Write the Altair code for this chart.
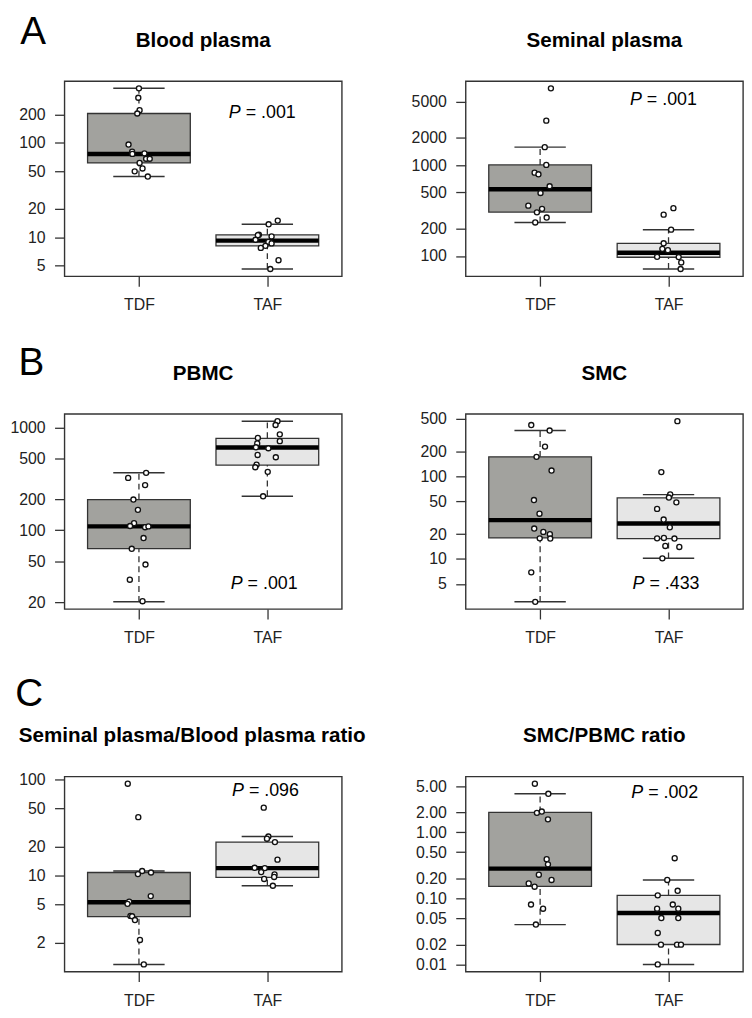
import math
import altair as alt
import pandas as pd

groups = ["TDF", "TAF"]

# ---------------- data ----------------
# Blood plasma
bp_tdf = [379, 301, 222, 205, 96, 80.7, 76.4, 77.5, 67.9, 67.9, 61.3, 53.6, 49.9, 44]
bp_tdf_jit = [0.0, -0.005, 0.005, -0.013, -0.081, -0.053, -0.051, 0.043, 0.056, 0.084, 0.005, 0.028, -0.033, 0.069]
bp_taf = [15.0, 13.7, 10.6, 10.5, 10.2, 9.4, 8.9, 8.6, 8.1, 7.7, 5.7, 4.6]
bp_taf_jit = [0.081, 0.010, -0.066, -0.074, 0.033, -0.092, 0.008, 0.033, -0.015, -0.051, 0.087, 0.023]
bp_box_tdf = [44, 61.3, 76.4, 205, 379]
bp_box_taf = [4.6, 8.1, 9.2, 10.6, 13.7]

# Seminal plasma
sp_tdf = [6980, 3080, 1575, 1004, 825, 792, 585, 493, 358, 330, 302, 265, 234]
sp_tdf_jit = [0.084, 0.048, 0.036, 0.048, -0.043, -0.013, 0.074, 0.003, -0.092, 0.015, -0.025, 0.051, -0.038]
sp_taf = [336, 285, 195, 138, 120, 116, 98, 97.5, 85, 72]
sp_taf_jit = [0.038, -0.038, 0.020, -0.038, -0.048, -0.005, -0.089, 0.079, 0.099, 0.094]
sp_box_tdf = [234, 304, 543, 1004, 1575]
sp_box_taf = [72, 97, 108.5, 138, 195]

# PBMC
pb_tdf = [362, 323, 275, 199, 158, 117, 110, 107, 109, 84, 66, 46.4, 33, 20.4]
pb_tdf_jit = [0.056, -0.084, 0.048, -0.043, -0.008, -0.038, -0.069, 0.048, 0.074, 0.036, -0.056, 0.051, -0.071, 0.028]
pb_taf = [1152, 1057, 857, 791, 736, 700, 641, 628, 540, 513, 434, 410, 370, 214]
pb_taf_jit = [0.079, 0.064, 0.097, -0.074, 0.097, -0.079, -0.089, 0.008, -0.076, 0.066, -0.084, -0.094, 0.003, -0.033]
pb_box_tdf = [20.1, 66.2, 109, 199, 362]
pb_box_taf = [214, 431, 637, 785, 1152]

# SMC
sm_tdf = [420, 360, 230, 173, 118, 51.8, 35.4, 23.4, 21.3, 20.0, 17.8, 17.7, 6.9, 3.03]
sm_tdf_jit = [-0.069, 0.074, 0.038, -0.028, 0.089, -0.048, -0.005, -0.046, 0.025, 0.076, -0.003, 0.079, -0.069, -0.038]
sm_taf = [468, 113, 60.8, 55.6, 48.6, 40.5, 30.1, 24.2, 17.8, 18.0, 17.7, 14.4, 14.0, 10.2]
sm_taf_jit = [0.069, -0.056, 0.013, 0.003, 0.061, -0.089, -0.038, 0.010, -0.089, -0.036, 0.046, -0.025, 0.084, -0.048]
sm_box_tdf = [3.03, 18.0, 29.6, 173, 360]
sm_box_taf = [10.2, 17.7, 27.0, 55.1, 60.3]

# Seminal plasma / Blood plasma ratio
rs_tdf = [91, 40.8, 11.2, 10.8, 10.4, 6.13, 5.37, 5.09, 3.81, 3.78, 3.45, 2.14, 1.19]
rs_tdf_jit = [-0.087, -0.005, 0.025, 0.094, -0.008, 0.092, -0.076, -0.089, -0.066, -0.053, -0.031, 0.008, 0.038]
rs_taf = [51.2, 25.6, 24.3, 22.4, 14.7, 12.1, 12.0, 10.9, 10.3, 9.7, 9.25, 7.86]
rs_taf_jit = [-0.028, 0.008, -0.003, 0.059, 0.079, -0.099, -0.020, -0.048, 0.056, 0.053, -0.025, 0.043]
rs_box_tdf = [1.19, 3.75, 5.28, 10.8, 11.2]
rs_box_taf = [7.86, 9.6, 12.0, 22.4, 25.6]

# SMC / PBMC ratio
rc_tdf = [5.44, 3.83, 1.97, 2.06, 1.57, 0.392, 0.327, 0.228, 0.190, 0.168, 0.150, 0.0807, 0.0697, 0.0401]
rc_tdf_jit = [-0.041, 0.064, -0.025, 0.013, 0.061, 0.051, 0.061, -0.010, 0.089, -0.089, -0.043, -0.071, 0.023, -0.033]
rc_taf = [0.405, 0.190, 0.130, 0.111, 0.0807, 0.0697, 0.0697, 0.0503, 0.0503, 0.0299, 0.0199, 0.0199, 0.0199, 0.01]
rc_taf_jit = [0.048, -0.010, 0.071, -0.084, 0.033, -0.089, 0.076, -0.056, 0.076, -0.084, -0.059, 0.066, 0.097, -0.084]
rc_box_tdf = [0.040, 0.152, 0.282, 2.0, 3.83]
rc_box_taf = [0.01, 0.02, 0.0602, 0.111, 0.19]

titles = ["Blood plasma", "Seminal plasma", "PBMC", "SMC",
          "Seminal plasma/Blood plasma ratio", "SMC/PBMC ratio"]
letters = ["A", "B", "C"]
p_values = ["= .001", "= .001", "= .001", "= .433", "= .096", "= .002"]
p_anchor_x = [1.70, 1.70, 1.715, 1.72, 1.725, 1.71]
p_anchor_y = [181.5, 4520, 26.9, 4.29, 67.8, 3.34]
y_ticks = [
    [5, 10, 20, 50, 100, 200],
    [100, 200, 500, 1000, 2000, 5000],
    [20, 50, 100, 200, 500, 1000],
    [5, 10, 20, 50, 100, 200, 500],
    [2, 5, 10, 20, 50, 100],
    [0.01, 0.02, 0.05, 0.1, 0.2, 0.5, 1, 2, 5],
]
y_formats = ["d", "d", "d", "d", "d", ".2f"]

# ---------------- layout / style ----------------
W, H = 280, 197
HSPACE = 125
LEFT_M = 56
BOTTOM_E = 38
ROW_TOP = [68, 99, 129]          # space reserved above each row's plots
LETTER_POS = [(-44.7, -37.0), (-46.3, -39.6), (-49.7, -71.6)]
FONT = "Liberation Sans"
DARK = "#333333"
FILLS = ["#a2a29e", "#e6e6e6"]

XSCALE = alt.Scale(domain=[0.42, 2.58], nice=False, zero=False)
XAXIS = alt.Axis(values=[1, 2], labelExpr="datum.value == 1 ? 'TDF' : 'TAF'",
                 title=None, labelFlush=False, labelOverlap=False, labelPadding=11)


def panel(idx, tdf, tdf_j, taf, taf_j, box_tdf, box_taf, left, row):
    allv = tdf + taf + box_tdf + box_taf
    lo, hi = math.log10(min(allv)), math.log10(max(allv))
    ext = 0.04 * (hi - lo)
    dom = [10 ** (lo - ext), 10 ** (hi + ext)]
    ysc = alt.Scale(type="log", domain=dom, nice=False, zero=False)
    yax = alt.Axis(values=y_ticks[idx], format=y_formats[idx], title=None,
                   labelOverlap=False, labelPadding=9.5)

    pts = pd.DataFrame({
        "x": [1 + j for j in tdf_j] + [2 + j for j in taf_j],
        "v": tdf + taf,
    })
    st = pd.DataFrame({
        "grp": groups,
        "g": [1, 2],
        "lo": [box_tdf[0], box_taf[0]],
        "q1": [box_tdf[1], box_taf[1]],
        "med": [box_tdf[2], box_taf[2]],
        "q3": [box_tdf[3], box_taf[3]],
        "hi": [box_tdf[4], box_taf[4]],
    })
    st["gl"] = st["g"] - 0.4
    st["gr"] = st["g"] + 0.4
    st["cl"] = st["g"] - 0.2
    st["cr"] = st["g"] + 0.2

    def X(f):
        return alt.X(f, scale=XSCALE, axis=XAXIS)

    def Y(f):
        return alt.Y(f, scale=ysc, axis=yax)

    base = alt.Chart(st)
    box = base.mark_rect(stroke=DARK, strokeWidth=1.3).encode(
        x=X("gl:Q"), x2="gr:Q", y=Y("q1:Q"), y2="q3:Q",
        fill=alt.Fill("grp:N", scale=alt.Scale(domain=groups, range=FILLS), legend=None),
    )
    wh_up = base.mark_rule(color=DARK, strokeWidth=1.3, strokeDash=[6, 4]).encode(
        x=X("g:Q"), y=Y("q3:Q"), y2="hi:Q")
    wh_dn = base.mark_rule(color=DARK, strokeWidth=1.3, strokeDash=[6, 4]).encode(
        x=X("g:Q"), y=Y("lo:Q"), y2="q1:Q")
    cap_up = base.mark_rule(color=DARK, strokeWidth=1.5).encode(
        x=X("cl:Q"), x2="cr:Q", y=Y("hi:Q"))
    cap_dn = base.mark_rule(color=DARK, strokeWidth=1.5).encode(
        x=X("cl:Q"), x2="cr:Q", y=Y("lo:Q"))
    med = base.mark_rule(color="black", strokeWidth=4.5).encode(
        x=X("gl:Q"), x2="gr:Q", y=Y("med:Q"))
    dots = alt.Chart(pts).mark_circle(size=26, fill="white", stroke="#111111",
                                      strokeWidth=1.35, opacity=1).encode(
        x=X("x:Q"), y=Y("v:Q"))

    info = pd.DataFrame({"t": [titles[idx]], "p": ["P"], "rest": [p_values[idx]],
                         "px": [p_anchor_x[idx]], "py": [p_anchor_y[idx]],
                         "l": [letters[row]]})
    ibase = alt.Chart(info)
    tdx = -11 if idx == 4 else 0
    ttl = ibase.mark_text(font=FONT, fontSize=20.8, fontWeight="bold", align="center",
                          baseline="alphabetic", color="black").encode(
        x=alt.value(W / 2 + tdx), y=alt.value(-34.5), text="t:N")
    p1 = ibase.mark_text(font=FONT, fontSize=18, fontStyle="italic", align="left",
                         baseline="alphabetic", color="black").encode(
        x=X("px:Q"), y=Y("py:Q"), text="p:N")
    p2 = ibase.mark_text(font=FONT, fontSize=18, align="left", dx=17,
                         baseline="alphabetic", color="black").encode(
        x=X("px:Q"), y=Y("py:Q"), text="rest:N")

    layers = [box, wh_up, wh_dn, cap_up, cap_dn, med, dots, ttl, p1, p2]
    if left:
        lx, ly = LETTER_POS[row]
        let = ibase.mark_text(font=FONT, fontSize=39, align="left",
                              baseline="alphabetic", color="black").encode(
            x=alt.value(lx), y=alt.value(ly), text="l:N")
        spacer = ibase.mark_rule(color="white", strokeWidth=0.5).encode(
            x=alt.value(-LEFT_M), y=alt.value(-ROW_TOP[row]), y2=alt.value(H + BOTTOM_E))
        layers = [spacer] + layers + [let]
    return alt.layer(*layers).properties(width=W, height=H)


pA1 = panel(0, bp_tdf, bp_tdf_jit, bp_taf, bp_taf_jit, bp_box_tdf, bp_box_taf, True, 0)
pA2 = panel(1, sp_tdf, sp_tdf_jit, sp_taf, sp_taf_jit, sp_box_tdf, sp_box_taf, False, 0)
pB1 = panel(2, pb_tdf, pb_tdf_jit, pb_taf, pb_taf_jit, pb_box_tdf, pb_box_taf, True, 1)
pB2 = panel(3, sm_tdf, sm_tdf_jit, sm_taf, sm_taf_jit, sm_box_tdf, sm_box_taf, False, 1)
pC1 = panel(4, rs_tdf, rs_tdf_jit, rs_taf, rs_taf_jit, rs_box_tdf, rs_box_taf, True, 2)
pC2 = panel(5, rc_tdf, rc_tdf_jit, rc_taf, rc_taf_jit, rc_box_tdf, rc_box_taf, False, 2)

rows = [alt.hconcat(a, b, spacing=HSPACE, bounds="flush")
        for a, b in [(pA1, pA2), (pB1, pB2), (pC1, pC2)]]

chart = alt.vconcat(*rows, spacing=0).properties(padding=0).configure_view(
    stroke=DARK, strokeWidth=1.4
).configure_axis(
    domain=False, grid=False, ticks=True, tickColor=DARK, tickWidth=1.3, tickSize=10,
    labelFont=FONT, labelFontSize=16, labelColor="#222222",
)

chart.save("out.html", embed_options={"renderer": "svg", "actions": False})
